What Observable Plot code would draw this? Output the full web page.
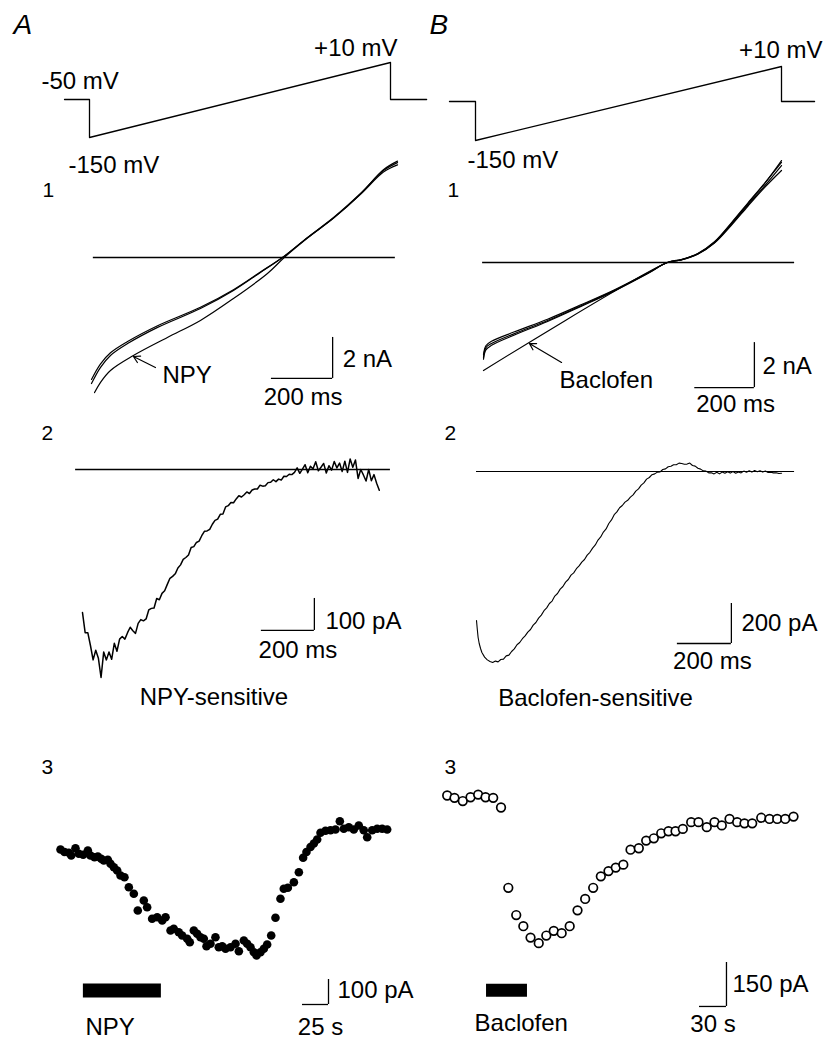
<!DOCTYPE html>
<html>
<head>
<meta charset="utf-8">
<script src="https://cdn.jsdelivr.net/npm/d3@7"></script>
<script src="https://cdn.jsdelivr.net/npm/@observablehq/plot@0.6"></script>
<style>
  body { margin: 0; background: #fff; }
  #fig { position: relative; width: 828px; height: 1041px; background: #fff; overflow: hidden; }
</style>
</head>
<body>
<div id="fig"></div>
<script>
// ================= DATA =================
// Voltage protocols: time (ms) and command voltage (mV)
const protoTimeA = [-83, 0, 0, 1000, 1000, 1120];
const protoTimeB = [-85, 0, 0, 1000, 1000, 1108];
const protoVolt  = [-50, -50, -150, 10, -50, -50];

// A1: ramp currents (ms, nA)
const a1Control = [[0,-6.15],[29,-5.37],[62,-4.78],[118,-4.2],[216,-3.41],[356,-2.49],[464,-1.61],[552,-0.73],[624,0],[706,0.98],[791,1.95],[879,3.12],[954,4.24],[1000,4.63]];
const a1Wash    = [[0,-5.95],[29,-5.2],[62,-4.65],[118,-4.1],[216,-3.33],[356,-2.43],[464,-1.57],[552,-0.71],[624,0],[706,0.97],[791,1.93],[879,3.08],[954,4.17],[1000,4.52]];
const a1NPY     = [[10,-6.59],[29,-6.1],[62,-5.51],[137,-4.78],[248,-3.9],[356,-3.07],[464,-2.0],[575,-0.78],[630,0],[706,0.95],[791,1.92],[879,3.1],[954,4.28],[1000,4.7]];

// B1: ramp currents (ms, nA)
const b1Control  = [[0,-4.22],[8,-3.78],[27,-3.6],[104,-3.16],[215,-2.58],[329,-1.91],[440,-1.24],[550,-0.49],[617,0],[663,0.12],[719,0.39],[775,0.9],[831,1.72],[887,2.61],[943,3.5],[1000,4.53]];
const b1Wash1    = [[0,-4.1],[8,-3.7],[27,-3.5],[104,-3.08],[215,-2.52],[329,-1.87],[440,-1.21],[550,-0.47],[617,0],[663,0.12],[719,0.38],[775,0.88],[831,1.68],[887,2.55],[943,3.4],[1000,4.31]];
const b1Wash2    = [[0,-4.3],[8,-3.88],[27,-3.68],[104,-3.22],[215,-2.62],[329,-1.94],[440,-1.26],[550,-0.5],[617,0],[663,0.11],[719,0.37],[775,0.86],[831,1.64],[887,2.5],[943,3.33],[1000,4.09]];
const b1Baclofen = [[0,-4.8],[617,0],[663,0.13],[719,0.4],[775,0.92],[831,1.75],[887,2.64],[943,3.52],[1000,4.45]];

// A2: NPY-sensitive current (pA), one sample every 10 ms from 0 ms
const a2Step = 10;
const a2Current = [-447,-510,-510,-550,-595,-565,-590,-650,-570,-595,-570,-593,-543,-568,-530,
  -522,-530,-510,-493,-504,-512,-481,-469,-473,-467,-439,-434,-433,-403,-407,
  -387,-379,-359,-340,-334,-326,-308,-298,-281,-275,-267,-244,-241,-228,-224,-207,-193,-192,-187,-171,
  -159,-155,-140,-139,-117,-113,-103,-104,-92,-82,-86,-79,-70,-75,-64,-61,-61,-49,-52,-51,
  -41,-40,-32,-38,-30,-33,-21,-22,-15,-16,-9,
  5,-12,1,15,-10,10,2,24,-4,7,19,-11,12,-2,25,5,20,-6,26,-9,33,7,30,-28,0,-17,-36,0,-35,-16,-43,-65];

// B2: Baclofen-sensitive current (ms, pA)
const b2Current = [[0,-745],[3,-790],[6,-830],[10,-860],[15,-885],[20,-905],[30,-928],[40,-942],[50,-950],[60,-955],[70,-948],[80,-952],[90,-940],[100,-938],[110,-922],[120,-918],[130,-900],[140,-887],[150,-866],[160,-855],[170,-836],[180,-822],[190,-803],[200,-790],[210,-768],[220,-755],[230,-733],[240,-718],[250,-696],[260,-682],[270,-660],[280,-648],[290,-623],[300,-610],[310,-588],[320,-575],[330,-553],[340,-540],[350,-518],[360,-507],[370,-486],[380,-472],[390,-453],[400,-440],[410,-418],[420,-404],[430,-383],[440,-367],[450,-343],[460,-327],[470,-303],[480,-287],[490,-260],[500,-242],[510,-216],[520,-202],[530,-181],[540,-170],[550,-153],[560,-144],[570,-128],[580,-117],[590,-98],[600,-87],[610,-68],[620,-57],[630,-38],[640,-30],[650,-16],[660,-12],[670,-3],[680,-2],[690,10],[700,13],[710,24],[720,26],[730,34],[740,34],[750,42],[760,40],[770,36],[780,37],[790,42],[800,30],[810,27],[820,16],[830,12],[840,3],[850,2],[860,-7],[870,-6],[880,-12],[890,-4],[900,-12],[910,-3],[920,-9],[930,-1],[940,-8],[950,0],[960,-9],[970,-2],[980,-7],[990,2],[1000,-4],[1010,4],[1020,-3],[1030,5],[1040,-1],[1050,4],[1060,-3],[1070,2],[1080,-5],[1090,-4],[1100,-7],[1110,-6],[1120,-10],[1130,-9]];

// A3: current time course during NPY (s, pA relative to start)
const a3Points = [[0,0],[3.8,-10],[8,-13],[10.3,-24],[14.4,5],[17.6,-17],[21.8,-21],[26.3,-4],[28.8,-24],[32.7,-31],[35.9,-28],[39.1,-37],[41.6,-44],[45.5,-41],[48.1,-57],[51.3,-71],[54.5,-84],[57.7,-104],[61.5,-111],[65.7,-151],[70.5,-177],[74.3,-244],[80.1,-204],[83.3,-231],[88.1,-277],[93,-271],[97.8,-284],[101,-271],[105.8,-324],[108.9,-317],[113.7,-331],[117,-344],[121.8,-357],[124.3,-371],[128.2,-324],[131.4,-337],[134.6,-351],[137.8,-357],[140.4,-387],[144.2,-377],[149,-351],[152.2,-391],[155.5,-387],[158.7,-397],[163.5,-391],[168.3,-377],[171.5,-407],[176.3,-364],[179.5,-377],[182.7,-391],[185.9,-411],[188.5,-424],[192.3,-411],[195.5,-397],[198.7,-380],[202.6,-344],[206.7,-273],[211.5,-197],[214.7,-157],[218.6,-153],[224.4,-131],[229.2,-91],[233.3,-33],[236.5,-10],[240.4,10],[243.6,24],[246.8,40],[250,67],[254.8,75],[259.6,77],[264.4,80],[268.6,113],[272.4,83],[277.2,89],[282,80],[286.8,96],[291.6,77],[294.9,49],[299.7,77],[304.5,83],[309.3,83],[314.1,80]];

// B3: current time course during baclofen (s, pA relative to start)
const b3Points = [[0,0],[8.1,-8],[17.3,-19],[25.9,-6],[34.4,3],[42.6,-6],[51.1,-8],[59.8,-41],[67.9,-315],[76.7,-408],[84.6,-446],[92.6,-485],[101.7,-504],[110.1,-478],[118.4,-462],[127.2,-470],[136.1,-446],[144.8,-392],[153.3,-353],[162.2,-315],[170.7,-276],[179.2,-258],[187.3,-246],[195.7,-236],[203.7,-185],[212.9,-180],[221.1,-154],[229.6,-146],[237.8,-129],[245.9,-122],[253.7,-122],[261.8,-114],[271.1,-91],[279.2,-91],[288.4,-108],[297,-91],[305.1,-102],[313.7,-80],[322.2,-91],[330.3,-95],[338.9,-95],[348.9,-76],[358.1,-80],[366.7,-80],[375.6,-80],[384.8,-72]];

// Drug applications (s)
const npyApplication = [22, 97];
const baclofenApplication = [43.7, 89.2];

// Scale bars: lengths and labels
const barA1 = {dx: 200, dy: 2,   xl: "200 ms", yl: "2 nA"};
const barB1 = {dx: 200, dy: 2,   xl: "200 ms", yl: "2 nA"};
const barA2 = {dx: 200, dy: 100, xl: "200 ms", yl: "100 pA"};
const barB2 = {dx: 200, dy: 200, xl: "200 ms", yl: "200 pA"};
const barA3 = {dx: 25,  dy: 100, xl: "25 s",   yl: "100 pA"};
const barB3 = {dx: 30,  dy: 150, xl: "30 s",   yl: "150 pA"};

// ================= DRAWING =================
const FONT = "'Liberation Sans', Arial, Helvetica, sans-serif";
const FS = 24;
const SW = 1.3;
const fig = document.getElementById("fig");
const pairs = a => a.map(([t, v]) => ({t, v}));

function layer({x = {}, y = {}, marks}) {
  const svg = Plot.plot({
    width: 828, height: 1041, margin: 0,
    x: {axis: null, ...x}, y: {axis: null, ...y},
    style: {position: "absolute", left: "0px", top: "0px", background: "transparent",
            fontFamily: FONT, overflow: "visible", color: "black"},
    marks
  });
  fig.append(svg);
}

function scaleBar(bar, at, o) {
  const d = [{x: at[0], y: at[1], ...bar}];
  return [
    Plot.ruleY(d, {y: "y", x1: r => r.x - r.dx, x2: "x", strokeWidth: SW}),
    Plot.ruleX(d, {x: "x", y1: "y", y2: r => r.y + r.dy, strokeWidth: SW}),
    Plot.text(d, {x: "x", y: "y", text: "yl", textAnchor: "start", lineAnchor: "bottom",
                  dx: o.ydx, dy: o.ydy, fontSize: FS, fontFamily: FONT}),
    Plot.text(d, {x: r => r.x - r.dx / 2, y: "y", text: "xl", textAnchor: "middle", lineAnchor: "bottom",
                  dx: o.xdx, dy: o.xdy, fontSize: FS, fontFamily: FONT})
  ];
}
const txt = (data, o) => Plot.text(data, {fontSize: FS, fontFamily: FONT, lineAnchor: "bottom", textAnchor: "start", ...o});

// The printed voltage axis of the protocol is not linear: warp it piecewise
const warpA = d3.scaleLinear([-150, -50, 10], [0, 38, 75]);
const warpB = d3.scaleLinear([-150, -50, 10], [0, 39, 74]);

// ---- Protocol A ----
const protoA = protoTimeA.map((t, i) => ({t, v: protoVolt[i]}));
layer({
  x: {domain: [0, 1000], range: [89, 390]},
  y: {transform: v => warpA(v), domain: [0, 75], range: [137, 62]},
  marks: [
    Plot.line(protoA, {x: "t", y: "v", strokeWidth: SW}),
    txt([protoA[0]], {x: "t", y: "v", text: d => `${d.v} mV`, dx: -23, dy: -11}),
    txt([protoA[3]], {x: "t", y: "v", text: d => `+${d.v} mV`, textAnchor: "end", dx: 7, dy: -7}),
    txt([protoA[2]], {x: "t", y: "v", text: d => `${d.v} mV`, dx: -21, dy: 35})
  ]
});

// ---- Protocol B ----
const protoB = protoTimeB.map((t, i) => ({t, v: protoVolt[i]}));
layer({
  x: {domain: [0, 1000], range: [475, 781]},
  y: {transform: v => warpB(v), domain: [0, 74], range: [140, 66]},
  marks: [
    Plot.line(protoB, {x: "t", y: "v", strokeWidth: SW}),
    txt([protoB[3]], {x: "t", y: "v", text: d => `+${d.v} mV`, textAnchor: "end", dx: 41, dy: -9}),
    txt([protoB[2]], {x: "t", y: "v", text: d => `${d.v} mV`, dx: -8, dy: 27})
  ]
});

// ---- A1 ----
const a1Traces = [["control", a1Control], ["wash", a1Wash], ["NPY", a1NPY]]
  .flatMap(([k, a]) => pairs(a).map(d => ({...d, k})));
layer({
  x: {domain: [0, 1000], range: [91, 397]},
  y: {domain: [-10, 10], range: [462, 52]},
  marks: [
    Plot.ruleY([0], {x1: 6, x2: 993, strokeWidth: SW}),
    Plot.line(a1Traces, {x: "t", y: "v", z: "k", curve: "catmull-rom", strokeWidth: 1.2}),
    Plot.arrow([{x1: 209, y1: -5.37, x2: 137, y2: -4.83}], {x1: "x1", y1: "y1", x2: "x2", y2: "y2", strokeWidth: 1.2, headLength: 9}),
    txt([{t: 209, v: -5.37}], {x: "t", y: "v", text: () => "NPY", dx: 7, dy: 15}),
    ...scaleBar(barA1, [788, -5.9], {ydx: 10, ydy: -11, xdx: 1, xdy: 27})
  ]
});

// ---- B1 ----
const b1Traces = [["control", b1Control], ["wash1", b1Wash1], ["wash2", b1Wash2], ["baclofen", b1Baclofen]]
  .flatMap(([k, a]) => pairs(a).map(d => ({...d, k})));
layer({
  x: {domain: [0, 1000], range: [483, 781]},
  y: {domain: [-10, 10], range: [487, 37]},
  marks: [
    Plot.ruleY([0], {x1: -3, x2: 1044, strokeWidth: SW}),
    Plot.line(b1Traces, {x: "t", y: "v", z: "k", curve: "catmull-rom", strokeWidth: 1.2}),
    Plot.arrow([{x1: 262, y1: -4.44, x2: 154, y2: -3.6}], {x1: "x1", y1: "y1", x2: "x2", y2: "y2", strokeWidth: 1.2, headLength: 9}),
    txt([{t: 262, v: -4.44}], {x: "t", y: "v", text: () => "Baclofen", dx: -2, dy: 26}),
    ...scaleBar(barB1, [909, -5.56], {ydx: 8, ydy: -14, xdx: 11, xdy: 24})
  ]
});

// ---- A2 ----
const a2 = a2Current.map((v, i) => ({t: i * a2Step, v}));
layer({
  x: {domain: [0, 1000], range: [82, 347]},
  y: {domain: [-1000, 0], range: [789, 469]},
  marks: [
    Plot.ruleY([0], {x1: -26, x2: 1162, strokeWidth: SW}),
    Plot.line(a2, {x: "t", y: "v", strokeWidth: 1.5}),
    ...scaleBar(barA2, [875, -503], {ydx: 11, ydy: -1, xdx: 10, xdy: 28}),
    txt([{t: 496, v: -737}], {x: "t", y: "v", text: () => "NPY-sensitive", textAnchor: "middle"})
  ]
});

// ---- B2 ----
layer({
  x: {domain: [0, 1000], range: [476, 746]},
  y: {domain: [-1000, 0], range: [671, 471]},
  marks: [
    Plot.ruleY([0], {x1: 0, x2: 1178, strokeWidth: 1.1}),
    Plot.line(pairs(b2Current), {x: "t", y: "v", strokeWidth: 1.1}),
    ...scaleBar(barB2, [944, -860], {ydx: 10, ydy: -13, xdx: 8, xdy: 25}),
    txt([{t: 441, v: -1170}], {x: "t", y: "v", text: () => "Baclofen-sensitive", textAnchor: "middle"})
  ]
});

// ---- A3 ----
layer({
  x: {domain: [0, 100], range: [60, 164]},
  y: {domain: [-400, 0], range: [949, 849]},
  marks: [
    Plot.dot(pairs(a3Points), {x: "t", y: "v", r: 4.3, fill: "black", stroke: "none"}),
    Plot.ruleY([npyApplication], {x1: d => d[0], x2: d => d[1], y: () => -564, strokeWidth: 14}),
    txt([npyApplication], {x: d => d[0], y: () => -564, text: () => "NPY", dx: 2, dy: 44}),
    ...scaleBar(barA3, [257.7, -620], {ydx: 9, ydy: -7, xdx: 5, xdy: 30})
  ]
});

// ---- B3 ----
layer({
  x: {domain: [0, 100], range: [446.7, 536.7]},
  y: {domain: [-300, 0], range: [882.9, 795]},
  marks: [
    Plot.ruleY([baclofenApplication], {x1: d => d[0], x2: d => d[1], y: () => -665, strokeWidth: 13}),
    txt([baclofenApplication], {x: d => d[0], y: () => -665, text: () => "Baclofen", dx: -12, dy: 41}),
    Plot.dot(pairs(b3Points), {x: "t", y: "v", r: 4.3, fill: "white", stroke: "black", strokeWidth: 1.7}),
    ...scaleBar(barB3, [310.3, -720], {ydx: 6, ydy: -14, xdx: 0, xdy: 26})
  ]
});

// ---- Panel letters and numbers ----
const letter = (s, dx, dy, o = {}) => Plot.text([s], {text: d => d, frameAnchor: "top-left", dx, dy,
  textAnchor: "start", lineAnchor: "bottom", fontFamily: FONT, fontSize: 21, ...o});
layer({
  marks: [
    letter("A", 13, 33, {fontSize: 28, fontStyle: "italic"}),
    letter("B", 429, 33, {fontSize: 28, fontStyle: "italic"}),
    letter("1", 42, 196), letter("1", 447, 196),
    letter("2", 41, 439), letter("2", 444, 439),
    letter("3", 41, 773), letter("3", 444, 773)
  ]
});
</script>
</body>
</html>
